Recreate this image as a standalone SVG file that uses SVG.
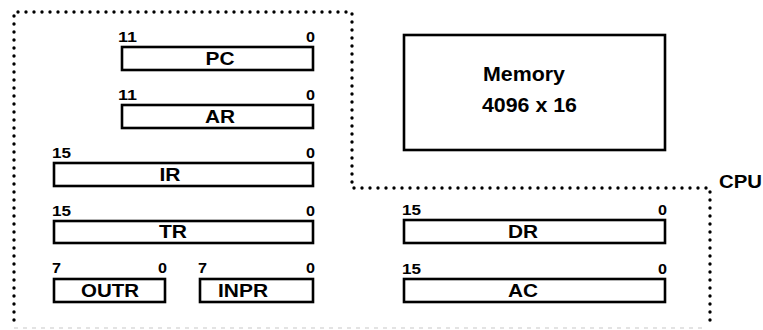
<svg xmlns="http://www.w3.org/2000/svg" width="763" height="330" viewBox="0 0 763 330">
<style>
.reg{fill:#fff;stroke:#000;stroke-width:2.6}
.name{font-family:"Liberation Sans",Arial,sans-serif;font-weight:bold;font-size:18px;text-anchor:middle}
.mem{font-family:"Liberation Sans",Arial,sans-serif;font-weight:bold;font-size:19.5px}
.bit{font-family:"Liberation Sans",Arial,sans-serif;font-weight:bold;font-size:14px}
.end{text-anchor:end}
.dot{fill:none;stroke:#000;stroke-width:3.4;stroke-linecap:round;stroke-dasharray:0 8}
</style>
<rect width="763" height="330" fill="#fff"/>
<g id="connectors">
<path class="dot" d="M14 320 V12 H352 V188 H710 V322"/>
<line x1="14" y1="328" x2="706" y2="328" stroke="#c8c8c8" stroke-width="1.2" stroke-dasharray="4 5"/>
</g>
<g id="cpu-label"><text x="719" y="188" font-family="Liberation Sans,Arial,sans-serif" font-weight="bold" font-size="18" textLength="43" lengthAdjust="spacingAndGlyphs">CPU</text></g>
<g id="PC">
<text class="bit" x="118" y="42" textLength="19" lengthAdjust="spacingAndGlyphs">11</text><text class="bit end" x="315" y="42" textLength="9" lengthAdjust="spacingAndGlyphs">0</text>
<rect class="reg" x="122" y="47" width="191" height="23"/>
<text class="name" x="220" y="64.5" textLength="29" lengthAdjust="spacingAndGlyphs">PC</text>
</g>
<g id="AR">
<text class="bit" x="118" y="100" textLength="19" lengthAdjust="spacingAndGlyphs">11</text><text class="bit end" x="315" y="100" textLength="9" lengthAdjust="spacingAndGlyphs">0</text>
<rect class="reg" x="122" y="105" width="191" height="23"/>
<text class="name" x="220" y="122.5" textLength="30" lengthAdjust="spacingAndGlyphs">AR</text>
</g>
<g id="IR">
<text class="bit" x="52" y="158" textLength="19" lengthAdjust="spacingAndGlyphs">15</text><text class="bit end" x="315" y="158" textLength="9" lengthAdjust="spacingAndGlyphs">0</text>
<rect class="reg" x="54" y="163" width="259" height="23"/>
<text class="name" x="170" y="180.5" textLength="21" lengthAdjust="spacingAndGlyphs">IR</text>
</g>
<g id="TR">
<text class="bit" x="52" y="216" textLength="19" lengthAdjust="spacingAndGlyphs">15</text><text class="bit end" x="315" y="216" textLength="9" lengthAdjust="spacingAndGlyphs">0</text>
<rect class="reg" x="54" y="221" width="259" height="22"/>
<text class="name" x="173" y="238" textLength="28" lengthAdjust="spacingAndGlyphs">TR</text>
</g>
<g id="OUTR">
<text class="bit" x="52" y="273" textLength="9" lengthAdjust="spacingAndGlyphs">7</text><text class="bit end" x="167" y="273" textLength="9" lengthAdjust="spacingAndGlyphs">0</text>
<rect class="reg" x="54" y="279" width="111" height="23"/>
<text class="name" x="110" y="296.5" textLength="58" lengthAdjust="spacingAndGlyphs">OUTR</text>
</g>
<g id="INPR">
<text class="bit" x="198" y="273" textLength="9" lengthAdjust="spacingAndGlyphs">7</text><text class="bit end" x="315" y="273" textLength="9" lengthAdjust="spacingAndGlyphs">0</text>
<rect class="reg" x="200" y="279" width="113" height="23"/>
<text class="name" x="243" y="296.5" textLength="50" lengthAdjust="spacingAndGlyphs">INPR</text>
</g>
<g id="Memory">
<rect class="reg" x="404" y="35" width="261" height="115"/>
<text class="mem" x="483" y="81" textLength="82" lengthAdjust="spacingAndGlyphs">Memory</text>
<text class="mem" x="482" y="112" textLength="95" lengthAdjust="spacingAndGlyphs">4096 x 16</text>
</g>
<g id="DR">
<text class="bit" x="402" y="215" textLength="19" lengthAdjust="spacingAndGlyphs">15</text><text class="bit end" x="667" y="215" textLength="9" lengthAdjust="spacingAndGlyphs">0</text>
<rect class="reg" x="404" y="220" width="261" height="23"/>
<text class="name" x="523" y="237.5" textLength="30" lengthAdjust="spacingAndGlyphs">DR</text>
</g>
<g id="AC">
<text class="bit" x="402" y="274" textLength="19" lengthAdjust="spacingAndGlyphs">15</text><text class="bit end" x="667" y="274" textLength="9" lengthAdjust="spacingAndGlyphs">0</text>
<rect class="reg" x="404" y="279" width="261" height="23"/>
<text class="name" x="523" y="296.5" textLength="30" lengthAdjust="spacingAndGlyphs">AC</text>
</g>
</svg>
